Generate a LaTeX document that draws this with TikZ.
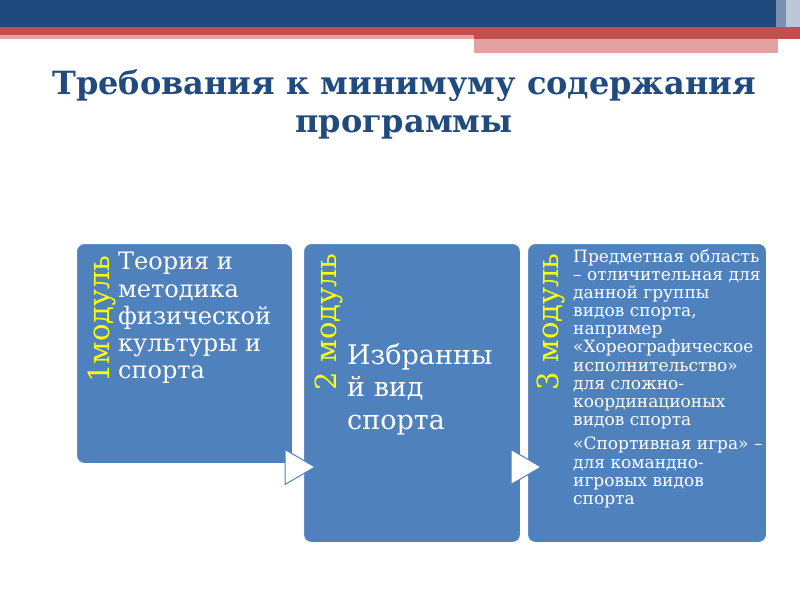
\documentclass[tikz,border=0pt]{standalone}
\usepackage{fontspec}
\setmainfont{DejaVu Serif}
\usetikzlibrary{shapes.geometric}
\definecolor{fejkek}{HTML}{1F497D}
\definecolor{fejpiros}{HTML}{C0504D}
\definecolor{fejrozsa}{HTML}{E3A2A2}
\definecolor{cimkek}{HTML}{214A7E}
\definecolor{modkek}{HTML}{4F81BD}
\definecolor{modsarga}{HTML}{FFFF00}

\begin{document}
\begin{tikzpicture}[x=1pt,y=-1pt,
modul/.style={draw=white, line width=1pt, fill=modkek, rounded corners=8pt, anchor=north west, inner sep=0},
modcimke/.style={rotate=90, anchor=east, text=modsarga, inner sep=0, font=\fontsize{29}{29}\selectfont},
modszoveg/.style={anchor=north west, align=left, text=white, inner sep=0},
nyil/.style={isosceles triangle, isosceles triangle stretches, draw=modkek, line width=1pt, fill=white, minimum height=30pt, minimum width=35pt, inner sep=0, outer sep=0, anchor=lower side}]
\useasboundingbox (0,0) rectangle (800,600);

\fill[fejkek] (0,0) rectangle (776,27);
\fill[fejpiros] (0,27) rectangle (800,35);
\fill[fejrozsa] (0,35) rectangle (474,39);
\fill[fejpiros] (474,35) rectangle (800,39);
\fill[fejrozsa] (474,39) rectangle (778,53);
\fill[fejkek!60] (776,0) rectangle (786,27);
\fill[fejkek!30] (786,0) rectangle (800,27);

\node[font=\bfseries\fontsize{32}{38}\selectfont, text=cimkek, align=center] (cim) at (404,104) {Требования к минимуму содержания\\программы};

\node[modul, minimum width=216pt, minimum height=220pt] (m1) at (76,243) {};
\node[modul, minimum width=217pt, minimum height=299pt] (m2) at (303,243) {};
\node[modul, minimum width=239pt, minimum height=299pt] (m3) at (527,243) {};

\node[nyil] (ny1) at (285,467) {};
\node[nyil] (ny2) at (511,467) {};

\node[modcimke] (c1) at (102,255) {1модуль};
\node[modcimke] (c2) at (329,253) {2 модуль};
\node[modcimke] (c3) at (551,253) {3 модуль};

\node[modszoveg, font=\fontsize{24}{27.3}\selectfont] (sz1) at (118,252) {Теория и\\методика\\физической\\культуры и\\спорта};
\node[modszoveg, font=\fontsize{27}{32.5}\selectfont] (sz2) at (347,343) {Избранны\\й вид\\спорта};
\node[modszoveg, font=\fontsize{17}{18.1}\selectfont] (sz3) at (573,249) {Предметная область\\– отличительная для\\данной группы\\видов спорта,\\например\\«Хореографическое\\исполнительство»\\для сложно-\\координационых\\видов спорта};
\node[modszoveg, font=\fontsize{17}{18.3}\selectfont] (sz4) at (573,437) {«Спортивная игра» –\\для командно-\\игровых видов\\спорта};
\end{tikzpicture}
\end{document}
